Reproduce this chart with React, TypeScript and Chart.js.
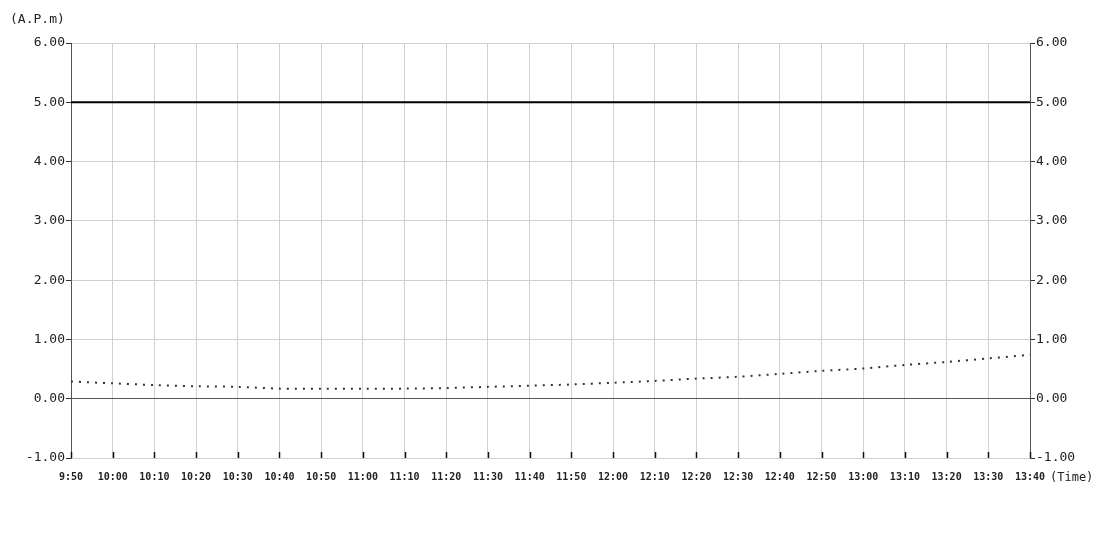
import { useEffect, useRef } from "react";
import { Chart, registerables } from "chart.js";

Chart.register(...registerables);

const timeLabels = [
  "9:50", "10:00", "10:10", "10:20", "10:30", "10:40", "10:50", "11:00",
  "11:10", "11:20", "11:30", "11:40", "11:50", "12:00", "12:10", "12:20",
  "12:30", "12:40", "12:50", "13:00", "13:10", "13:20", "13:30", "13:40",
];
const apmValues = [
  0.29, 0.26, 0.23, 0.21, 0.2, 0.17, 0.17, 0.17,
  0.17, 0.18, 0.2, 0.22, 0.24, 0.27, 0.3, 0.34,
  0.37, 0.42, 0.47, 0.51, 0.57, 0.62, 0.68, 0.74,
];
const limitValues = timeLabels.map(() => 5);
const yMin = -1;
const yMax = 6;

const FONT = "'DejaVu Sans Mono', monospace";

const decorPlugin = {
  id: "decor",
  afterDraw(chart: any) {
    const { ctx, chartArea, scales } = chart;
    const x = scales.x;
    ctx.save();
    // inward tick marks on the time axis
    ctx.strokeStyle = "#111";
    ctx.lineWidth = 1.5;
    x.ticks.forEach((_: any, i: number) => {
      const px = Math.round(x.getPixelForTick(i)) + 0.5;
      ctx.beginPath();
      ctx.moveTo(px, chartArea.bottom - 6);
      ctx.lineTo(px, chartArea.bottom);
      ctx.stroke();
    });
    ctx.fillStyle = "#222";
    ctx.font = "13px " + FONT;
    ctx.textBaseline = "middle";
    ctx.textAlign = "left";
    ctx.fillText("(A.P.m)", 10, 20);
    ctx.font = "12px " + FONT;
    ctx.fillText("(Time)", chartArea.right + 20, chartArea.bottom + 20);
    ctx.restore();
  },
};

export default function App() {
  const chartRef = useRef<HTMLCanvasElement>(null);
  const chartInstance = useRef<Chart | null>(null);

  useEffect(() => {
    document.body.style.margin = "0";
    if (!chartRef.current) return;
    if (chartInstance.current) chartInstance.current.destroy();
    const ctx = chartRef.current.getContext("2d");
    if (!ctx) return;

    const yTicks = {
      color: "#222",
      font: { family: FONT, size: 13 },
      padding: 1,
      stepSize: 1,
      callback: (v: any) => Number(v).toFixed(2),
    };

    chartInstance.current = new Chart(ctx, {
      type: "line",
      data: {
        labels: timeLabels,
        datasets: [
          {
            label: "limit",
            data: limitValues,
            borderColor: "#000",
            borderWidth: 2,
            pointRadius: 0,
            yAxisID: "y",
          },
          {
            label: "A.P.m",
            data: apmValues,
            borderColor: "#333",
            borderWidth: 2,
            borderDash: [2, 6],
            pointRadius: 0,
            tension: 0.3,
            yAxisID: "y",
          },
        ],
      },
      plugins: [decorPlugin],
      options: {
        animation: false,
        responsive: true,
        maintainAspectRatio: false,
        layout: { padding: { top: 43 } },
        plugins: {
          legend: { display: false },
          tooltip: { enabled: false },
        },
        scales: {
          x: {
            offset: false,
            grid: { color: "#d0d0d0", drawTicks: false },
            border: { color: "#d0d0d0" },
            ticks: {
              color: "#222",
              font: { family: FONT, size: 10, weight: "bold" },
              padding: 13,
              autoSkip: false,
              maxRotation: 0,
            },
            afterFit: (s: any) => {
              s.height = 92;
            },
          },
          y: {
            position: "left",
            min: yMin,
            max: yMax,
            grid: {
              color: (c: any) => (c.tick && c.tick.value === 0 ? "#555" : "#d0d0d0"),
              tickLength: 5,
              tickColor: "#333",
            },
            border: { color: "#555" },
            ticks: yTicks,
            afterFit: (s: any) => {
              s.width = 71;
            },
          },
          y2: {
            position: "right",
            min: yMin,
            max: yMax,
            grid: { drawOnChartArea: false, tickLength: 5, tickColor: "#333" },
            border: { color: "#555" },
            ticks: yTicks,
            afterFit: (s: any) => {
              s.width = 70;
            },
          },
        },
      },
    });

    return () => {
      if (chartInstance.current) {
        chartInstance.current.destroy();
        chartInstance.current = null;
      }
    };
  }, []);

  return (
    <div style={{ position: "relative", width: 1100, height: 550 }}>
      <canvas ref={chartRef} />
    </div>
  );
}
